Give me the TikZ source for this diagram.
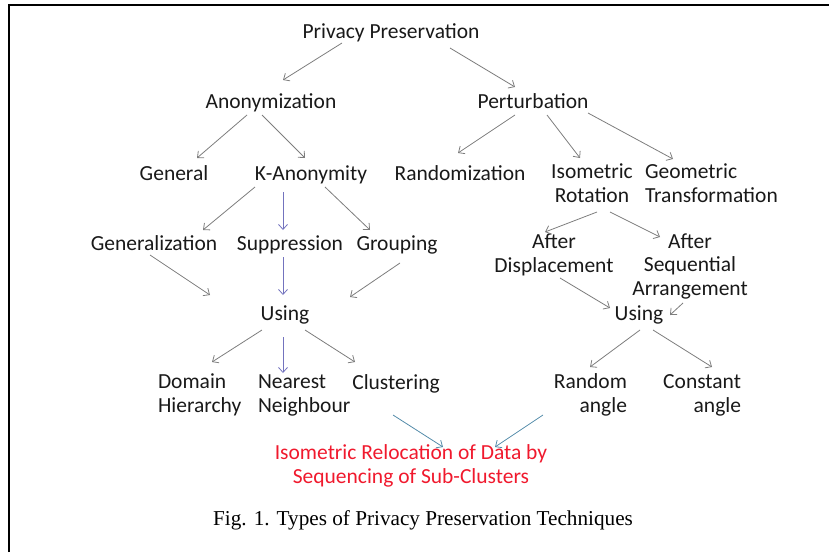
\documentclass[tikz,border=0pt]{standalone}
\usepackage{fontspec}
\setmainfont{Carlito}
\newfontfamily\capfont{Liberation Serif}
\usetikzlibrary{arrows.meta,calc}
\definecolor{txt}{RGB}{25,25,25}
\definecolor{arrgray}{RGB}{125,125,125}
\definecolor{arrblue}{RGB}{115,115,190}
\definecolor{arrteal}{RGB}{85,140,170}
\definecolor{redtxt}{RGB}{240,25,45}
\begin{document}
\begin{tikzpicture}[x=1pt,y=-1pt,
  lbl/.style={inner sep=0pt,outer sep=0pt,text=txt,font=\fontsize{21.5}{23.5}\selectfont},
  arr/.style={draw=arrgray,line width=0.8pt,-{Straight Barb[length=5pt,width=9pt]}},
  arrb/.style={arr,draw=arrblue},
  arrt/.style={arr,draw=arrteal}]
\useasboundingbox (0,0) rectangle (829,552);
\draw[line width=2pt] (9,552) -- (9,5) -- (829,5);
% nodes (multi-line nodes are placed at the baseline of their last line)
\node[lbl,anchor=base] (pp) at (391,38) {Privacy Preservation};
\node[lbl,anchor=base] (anon) at (271,108) {Anonymization};
\node[lbl,anchor=base] (pert) at (533,108) {Perturbation};
\node[lbl,anchor=base] (gen) at (174,180) {General};
\node[lbl,anchor=base] (kanon) at (311,180) {K-Anonymity};
\node[lbl,anchor=base] (rand) at (460,180) {Randomization};
\node[lbl,anchor=base,align=center] (iso) at (592,202) {Isometric\\Rotation};
\node[lbl,anchor=base west,align=left] (geo) at (645,202) {Geometric\\Transformation};
\node[lbl,anchor=base] (genz) at (154,250) {Generalization};
\node[lbl,anchor=base] (supp) at (290,250) {Suppression};
\node[lbl,anchor=base] (grp) at (397,250) {Grouping};
\node[lbl,anchor=base,align=center] (adisp) at (554,272) {After\\Displacement};
\node[lbl,anchor=base,align=center] (aseq) at (690,295) {After\\Sequential\\Arrangement};
\node[lbl,anchor=base] (usingL) at (285,320) {Using};
\node[lbl,anchor=base] (usingR) at (639,320) {Using};
\node[lbl,anchor=base west,align=left] (dom) at (158,412) {Domain\\Hierarchy};
\node[lbl,anchor=base west,align=left] (near) at (258,412) {Nearest\\Neighbour};
\node[lbl,anchor=base] (clus) at (396,389) {Clustering};
\node[lbl,anchor=base east,align=right] (rnd) at (627,412) {Random\\angle};
\node[lbl,anchor=base east,align=right] (cst) at (741,412) {Constant\\angle};
\node[lbl,anchor=base,align=center,text=redtxt] (red) at (411,483) {Isometric Relocation of Data by\\Sequencing of Sub-Clusters};
\node[inner sep=0pt,anchor=base,font=\capfont\fontsize{21.2}{24}\selectfont] (cap) at (423,525) {Fig. 1. Types of Privacy Preservation Techniques};
% connectors
\draw[arr] ($(pp.base)+(-49,5)$) -- ($(anon.base)+(12,-28)$);
\draw[arr] ($(pp.base)+(59,10)$) -- ($(pert.base)+(-18,-21)$);
\draw[arr] ($(anon.base)+(-24,7)$) -- ($(gen.base)+(23,-22)$);
\draw[arr] ($(anon.base)+(-9,7)$) -- ($(kanon.base)+(-6,-22)$);
\draw[arr] ($(pert.base)+(-18,7)$) -- ($(rand.base)+(-2,-27)$);
\draw[arr] ($(pert.base)+(14,7)$) -- ($(iso.base)+(-12,-44)$);
\draw[arr] ($(pert.base)+(55,5)$) -- ($(geo.base west)+(28,-43)$);
\draw[arr] ($(kanon.base)+(-56,7)$) -- ($(genz.base)+(49,-20)$);
\draw[arrb] ($(kanon.base)+(-28,12)$) -- ($(supp.base)+(-7,-20)$);
\draw[arr] ($(kanon.base)+(14,7)$) -- ($(grp.base)+(-27,-20)$);
\draw[arr] ($(genz.base)+(-4,5)$) -- ($(usingL.base)+(-75,-25)$);
\draw[arrb] ($(supp.base)+(-7,7)$) -- ($(usingL.base)+(-2,-25)$);
\draw[arr] ($(grp.base)+(3,13)$) -- ($(usingL.base)+(65,-23)$);
\draw[arr] ($(usingL.base)+(-23,10)$) -- ($(dom.base west)+(54,-50)$);
\draw[arrb] ($(usingL.base)+(-2,17)$) -- ($(near.base west)+(25,-39)$);
\draw[arr] ($(usingL.base)+(20,10)$) -- ($(clus.base)+(-41,-27)$);
\draw[arr] ($(iso.base)+(5,10)$) -- ($(adisp.base)+(-9,-40)$);
\draw[arr] ($(iso.base)+(18,10)$) -- ($(aseq.base)+(-30,-58)$);
\draw[arr] ($(adisp.base)+(6,6)$) -- ($(usingR.base)+(-29,-12)$);
\draw[arr] ($(aseq.base)+(-7,8)$) -- ($(usingR.base)+(31,-5)$);
\draw[arr] ($(usingR.base)+(1,10)$) -- ($(rnd.base east)+(-37,-45)$);
\draw[arr] ($(usingR.base)+(14,10)$) -- ($(cst.base east)+(-29,-45)$);
\draw[arrt] ($(clus.base)+(-3,26)$) -- ($(red.base)+(32,-36)$);
\draw[arrt] ($(rnd.base east)+(-84,3)$) -- ($(red.base)+(84,-36)$);
\end{tikzpicture}
\end{document}
